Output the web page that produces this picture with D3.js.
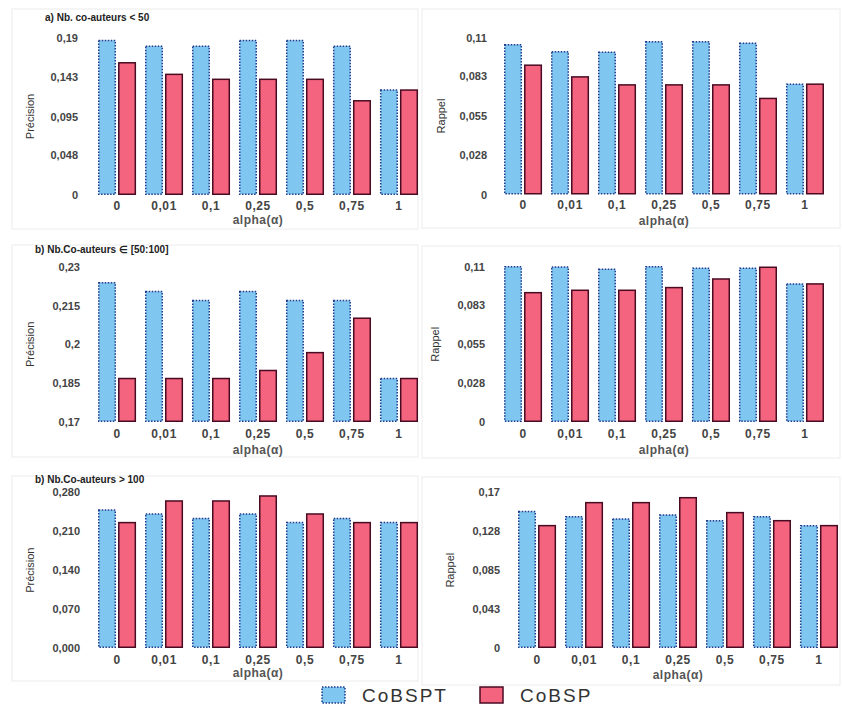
<!DOCTYPE html>
<html>
<head>
<meta charset="utf-8">
<script src="https://cdn.jsdelivr.net/npm/d3@7"></script>
<style>
  body { margin: 0; background: #fff; }
  svg { display: block; font-family: "Liberation Sans", Arial, sans-serif; }
</style>
</head>
<body>
<div id="chart"></div>
<script>
const alphas = ["0", "0,01", "0,1", "0,25", "0,5", "0,75", "1"];
const series = ["CoBSPT", "CoBSP"];

// a) co-auteurs < 50
const precLt50CoBSPT = [0.187, 0.180, 0.180, 0.187, 0.187, 0.180, 0.127];
const precLt50CoBSP  = [0.160, 0.146, 0.140, 0.140, 0.140, 0.114, 0.127];
const rapLt50CoBSPT  = [0.105, 0.100, 0.0997, 0.107, 0.107, 0.106, 0.0773];
const rapLt50CoBSP   = [0.0906, 0.0824, 0.0768, 0.0768, 0.0768, 0.0673, 0.0773];

// b) co-auteurs in [50:100]
const prec50CoBSPT = [0.2238, 0.2204, 0.2169, 0.2204, 0.2169, 0.2169, 0.1868];
const prec50CoBSP  = [0.1868, 0.1868, 0.1868, 0.1899, 0.1968, 0.2101, 0.1868];
const rap50CoBSPT  = [0.1100, 0.1098, 0.1082, 0.1100, 0.1089, 0.1089, 0.0978];
const rap50CoBSP   = [0.0916, 0.0933, 0.0933, 0.0952, 0.1013, 0.1096, 0.0978];

// b) co-auteurs > 100
const precGt100CoBSPT = [0.248, 0.241, 0.233, 0.241, 0.2255, 0.233, 0.2255];
const precGt100CoBSP  = [0.2255, 0.2644, 0.2644, 0.2734, 0.241, 0.2255, 0.2255];
const rapGt100CoBSPT  = [0.149, 0.1434, 0.1409, 0.1453, 0.139, 0.1434, 0.1336];
const rapGt100CoBSP   = [0.1336, 0.1587, 0.1587, 0.1641, 0.1478, 0.139, 0.1336];

// tick values + labels
const ticksPrecLt50 = [0, 0.048, 0.095, 0.143, 0.19];
const labelsPrecLt50 = ["0", "0,048", "0,095", "0,143", "0,19"];
const ticksRap11 = [0, 0.028, 0.055, 0.083, 0.11];
const labelsRap11 = ["0", "0,028", "0,055", "0,083", "0,11"];
const ticksPrec50 = [0.17, 0.185, 0.2, 0.215, 0.23];
const labelsPrec50 = ["0,17", "0,185", "0,2", "0,215", "0,23"];
const ticksPrecGt100 = [0, 0.07, 0.14, 0.21, 0.28];
const labelsPrecGt100 = ["0,000", "0,070", "0,140", "0,210", "0,280"];
const ticksRapGt100 = [0, 0.043, 0.085, 0.128, 0.17];
const labelsRapGt100 = ["0", "0,043", "0,085", "0,128", "0,17"];

const titles = ["a) Nb. co-auteurs < 50", "b) Nb.Co-auteurs \u2208 [50:100]", "b) Nb.Co-auteurs > 100"];

const width = 842, height = 707;
const blue = "#7fc6f1", blueLine = "#1d3b8c";
const red = "#f4647f", redLine = "#4a0b22";

const svg = d3.select("#chart").append("svg")
    .attr("width", width)
    .attr("height", height);

// panel frames (very faint)
const frames = [
    [12, 9, 406, 220], [422, 9, 418, 219],
    [12, 245, 406, 212], [422, 246, 418, 212],
    [12, 476, 406, 205], [422, 477, 418, 208]
];
svg.selectAll("rect.frame").data(frames).enter().append("rect")
    .attr("class", "frame")
    .attr("x", d => d[0]).attr("y", d => d[1])
    .attr("width", d => d[2]).attr("height", d => d[3])
    .attr("fill", "none").attr("stroke", "#ececec").attr("stroke-width", 1);

const panels = [
    { a: precLt50CoBSPT, b: precLt50CoBSP, domain: [0, 0.19], ticks: ticksPrecLt50, labels: labelsPrecLt50,
      x0: 98, x1: 418, yB: 195, yT: 38, labelX: 78, ylab: "Précision", ylabX: 30, xlabY: 224, tickPad: 6 },
    { a: rapLt50CoBSPT, b: rapLt50CoBSP, domain: [0, 0.11], ticks: ticksRap11, labels: labelsRap11,
      x0: 504, x1: 824, yB: 194.5, yT: 37.5, labelX: 487, ylab: "Rappel", ylabX: 441, xlabY: 225, tickPad: 5.5 },
    { a: prec50CoBSPT, b: prec50CoBSP, domain: [0.17, 0.23], ticks: ticksPrec50, labels: labelsPrec50,
      x0: 98, x1: 418, yB: 422, yT: 266.7, labelX: 80, ylab: "Précision", ylabX: 30, xlabY: 454, tickPad: 7 },
    { a: rap50CoBSPT, b: rap50CoBSP, domain: [0, 0.11], ticks: ticksRap11, labels: labelsRap11,
      x0: 504, x1: 824, yB: 422, yT: 266.7, labelX: 485, ylab: "Rappel", ylabX: 435, xlabY: 454, tickPad: 7 },
    { a: precGt100CoBSPT, b: precGt100CoBSP, domain: [0, 0.28], ticks: ticksPrecGt100, labels: labelsPrecGt100,
      x0: 98, x1: 418, yB: 648, yT: 492.3, labelX: 80, ylab: "Précision", ylabX: 30, xlabY: 677, tickPad: 7 },
    { a: rapGt100CoBSPT, b: rapGt100CoBSP, domain: [0, 0.17], ticks: ticksRapGt100, labels: labelsRapGt100,
      x0: 518, x1: 838, yB: 648, yT: 492.3, labelX: 500, ylab: "Rappel", ylabX: 450, xlabY: 679, tickPad: 7 }
];

panels.forEach(p => {
    const g = svg.append("g");
    const x = d3.scaleBand().domain(alphas).range([p.x0, p.x1]).paddingInner(0.19).paddingOuter(0);
    const xs = d3.scaleBand().domain(series).range([0, x.bandwidth()]).paddingInner(0.1);
    const y = d3.scaleLinear().domain(p.domain).range([p.yB, p.yT]);

    const rows = alphas.map((al, i) => ({ alpha: al, vals: [p.a[i], p.b[i]] }));
    const grp = g.selectAll("g.grp").data(rows).enter().append("g")
        .attr("transform", d => `translate(${x(d.alpha)},0)`);
    grp.selectAll("rect").data(d => d.vals.map((v, k) => ({ s: series[k], v }))).enter().append("rect")
        .attr("x", d => xs(d.s) + 0.75)
        .attr("width", xs.bandwidth() - 1.5)
        .attr("y", d => y(d.v))
        .attr("height", d => y(p.domain[0]) - y(d.v) - 0.75)
        .attr("fill", d => d.s === "CoBSPT" ? blue : red)
        .attr("stroke", d => d.s === "CoBSPT" ? blueLine : redLine)
        .attr("stroke-width", 1.5)
        .attr("stroke-dasharray", d => d.s === "CoBSPT" ? "1.5,1.5" : null);

    const yAxis = g.append("g")
        .attr("transform", `translate(${p.labelX},0)`)
        .call(d3.axisLeft(y).tickValues(p.ticks).tickFormat((d, i) => p.labels[i]).tickSize(0).tickPadding(0));
    yAxis.select(".domain").remove();
    yAxis.selectAll("text").attr("font-size", 11).attr("font-weight", "bold").attr("fill", "#444")
        .attr("font-family", "Liberation Sans, Arial, sans-serif");

    const xAxis = g.append("g")
        .attr("transform", `translate(0,${p.yB})`)
        .call(d3.axisBottom(x).tickSize(0).tickPadding(p.tickPad));
    xAxis.select(".domain").remove();
    xAxis.selectAll("text").attr("font-size", 12).attr("font-weight", "bold").attr("fill", "#444")
        .attr("letter-spacing", 0.6)
        .attr("font-family", "Liberation Sans, Arial, sans-serif");

    g.append("text")
        .attr("x", (p.x0 + p.x1) / 2).attr("y", p.xlabY)
        .attr("text-anchor", "middle")
        .attr("font-size", 12).attr("font-weight", "bold").attr("fill", "#555")
        .attr("letter-spacing", 0.5)
        .text("alpha(\u03B1)");

    g.append("text")
        .attr("transform", `translate(${p.ylabX + 4},${(p.yB + p.yT) / 2}) rotate(-90)`)
        .attr("text-anchor", "middle")
        .attr("font-size", 11).attr("fill", "#333")
        .text(p.ylab);
});

// panel titles
const titlePos = [[45, 21], [35, 253], [35, 483]];
titles.forEach((t, i) => {
    svg.append("text")
        .attr("x", titlePos[i][0]).attr("y", titlePos[i][1])
        .attr("font-size", 10).attr("font-weight", "bold").attr("fill", "#222")
        .text(t);
});

// legend
const legend = svg.append("g");
const legItems = [
    { s: "CoBSPT", x: 322, tx: 362 },
    { s: "CoBSP", x: 480, tx: 520 }
];
legItems.forEach(d => {
    legend.append("rect")
        .attr("x", d.x).attr("y", 687).attr("width", 23).attr("height", 16)
        .attr("fill", d.s === "CoBSPT" ? blue : red)
        .attr("stroke", d.s === "CoBSPT" ? blueLine : redLine)
        .attr("stroke-width", 1.5)
        .attr("stroke-dasharray", d.s === "CoBSPT" ? "1.5,1.5" : null);
    legend.append("text")
        .attr("x", d.tx).attr("y", 702)
        .attr("font-size", 19).attr("fill", "#333")
        .attr("letter-spacing", 2)
        .text(d.s);
});
</script>
</body>
</html>
